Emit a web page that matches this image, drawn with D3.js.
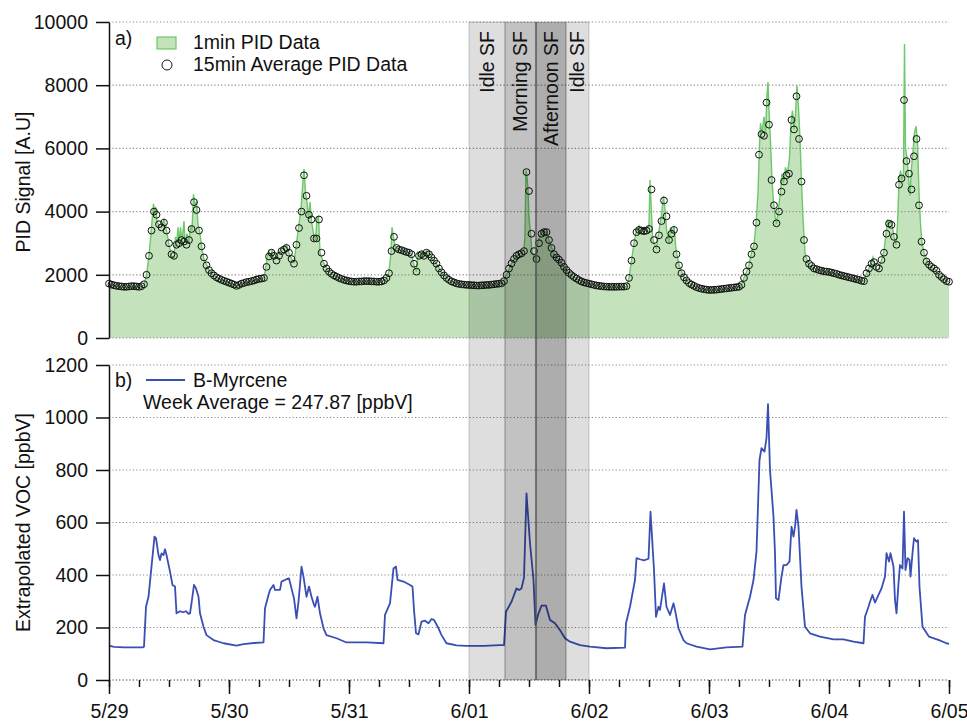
<!DOCTYPE html>
<html>
<head>
<meta charset="utf-8">
<script src="https://cdn.jsdelivr.net/npm/d3@7/dist/d3.min.js"></script>
<style>
  body { margin: 0; background: #fff; }
  svg text { font-family: "Liberation Sans", Arial, sans-serif; fill: #111; }
</style>
</head>
<body>
<svg id="chart" width="967" height="723"></svg>
<script>
// tick labels / categories
var dayLabels = ["5/29", "5/30", "5/31", "6/01", "6/02", "6/03", "6/04", "6/05"];
var pidTicks = [0, 2000, 4000, 6000, 8000, 10000];
var vocTicks = [0, 200, 400, 600, 800, 1000, 1200];
var shiftNames = ["Idle SF", "Morning SF", "Afternoon SF", "Idle SF"];
var shiftStart = [72, 79.2, 85.4, 91.4];   // hours since 5/29 00:00
var shiftEnd = [79.2, 85.4, 91.4, 96];

var pidAvg = [
  1720,1690,1670,1650,1640,1630,1620,1620,1630,1640,1640,1630,1620,1640,1700,2000,2600,3400,4000,3900,3600,3500,3650,3400,
  3000,2650,2600,2950,3000,3100,3050,2950,3100,3450,4300,4050,3400,2900,2550,2300,2150,2050,1980,1920,1880,1840,1810,1780,
  1750,1720,1690,1650,1680,1720,1740,1770,1780,1800,1820,1850,1870,1880,1900,2250,2580,2700,2600,2450,2600,2750,2800,2850,
  2700,2500,2350,2950,3480,4000,5150,4500,3900,3750,3150,3150,3750,2700,2350,2200,2100,2030,1980,1940,1900,1870,1840,1820,
  1800,1790,1780,1780,1790,1790,1800,1800,1800,1790,1790,1780,1780,1790,1820,1900,2050,2750,3200,2850,2800,2780,2750,2720,
  2700,2650,2350,2100,2600,2650,2600,2700,2650,2550,2450,2350,2200,2080,1980,1900,1840,1790,1760,1730,1710,1700,1690,1680,
  1680,1670,1670,1660,1660,1670,1670,1680,1680,1690,1700,1710,1720,1730,1800,2000,2200,2360,2500,2600,2650,2680,2750,5250,
  4650,3300,2750,2500,3000,3300,3350,3350,3100,2850,2650,2550,2480,2380,2250,2150,2060,1990,1930,1880,1830,1790,1760,1740,
  1720,1700,1680,1660,1650,1640,1630,1625,1620,1620,1620,1620,1625,1625,1625,1640,1900,2450,3000,3350,3420,3400,3380,3400,
  3450,4700,3100,2800,3250,3700,4350,3850,3100,3300,3420,2650,2300,2050,1920,1820,1740,1690,1650,1610,1580,1560,1545,1530,
  1520,1520,1525,1530,1540,1550,1560,1570,1580,1590,1600,1610,1620,1680,1900,2100,2300,2650,2900,3650,5800,6450,6400,7450,
  6750,5000,4200,3630,4000,4630,4950,5150,5200,6900,6600,7650,6300,4950,3100,2500,2350,2280,2200,2180,2150,2130,2110,2100,
  2090,2070,2050,2030,2000,1980,1960,1940,1920,1900,1880,1860,1840,1810,1800,2050,2200,2350,2400,2250,2200,2470,2700,3300,
  3620,3580,3200,2950,4850,5050,7530,5600,5200,4700,5750,6300,4200,3050,2700,2420,2320,2250,2200,2130,2000,1930,1860,1800,
  1780
];

// 1min PID data, [hour, signal]
var pidMinute = [
  [0,1700],[1,1660],[3,1610],[5,1630],[6.5,1620],[7,1680],[7.5,2000],[8,2600],[8.5,3500],[8.9,4250],[9.1,3900],[9.3,4150],
  [9.6,3700],[10,3550],[10.5,3500],[11,3750],[11.5,3400],[12,2950],[12.5,2600],[13,2550],[13.3,3200],[13.5,2900],[13.8,3500],
  [14,3000],[14.3,3500],[14.6,3050],[15,3700],[15.2,3000],[15.6,3300],[16,3050],[16.3,3550],[16.6,3400],[16.9,4550],[17.2,4200],
  [17.5,4300],[17.8,3600],[18.2,3300],[18.6,2800],[19,2500],[20,2150],[21,1980],[22,1880],[23,1810],[24,1750],
  [25,1680],[25.5,1640],[27,1740],[29,1820],[31,1900],[31.3,2200],[31.7,2600],[32,2750],[32.3,2550],[32.6,2800],[33,2500],
  [33.5,2600],[34,2700],[34.5,2850],[35,2800],[35.5,2950],[36,2700],[36.5,2500],[37,2400],[37.5,3000],[38,3600],[38.4,4100],
  [38.8,5000],[39,5350],[39.3,4600],[39.6,4300],[39.9,3800],[40.2,4300],[40.5,3700],[40.9,3300],[41.3,3100],[41.6,3800],
  [41.9,3850],[42.2,2700],[43,2350],[44,2100],[46,1900],[48,1800],
  [50,1790],[52,1800],[54,1780],[55,1820],[55.5,1900],[56,2100],[56.4,2700],[56.6,3500],[56.9,3200],[57.2,2900],[58,2800],
  [60,2700],[60.5,2650],[61,2300],[61.5,2100],[61.8,2700],[62.2,2600],[62.6,2750],[63,2600],[63.5,2750],[64,2700],[64.5,2550],
  [65.5,2350],[66.5,2080],[68,1840],[70,1710],[72,1680],
  [74,1660],[76,1680],[78,1720],[78.7,1750],[79.5,2000],[80.5,2360],[81.5,2600],[82.5,2700],[83,2800],[83.2,3300],[83.4,5300],
  [83.6,5100],[83.8,4700],[84,3800],[84.3,3300],[84.6,2700],[85,2600],[85.3,2450],[85.6,2900],[86,3150],[86.5,3350],[87,3400],
  [87.5,3350],[88,3100],[89,2650],[90,2480],[91,2250],[92,2060],[93,1930],[94,1830],[96,1720],
  [98,1650],[100,1620],[103.5,1625],[104,1900],[104.5,2450],[105,3000],[105.5,3400],[106,3550],[106.5,3400],[107,3500],
  [107.5,3400],[108,3600],[108.2,5000],[108.4,4300],[108.7,3200],[109,3000],[109.5,2850],[110,3400],[110.5,3900],[110.9,4500],
  [111.2,4050],[111.5,3450],[112,3000],[112.3,3500],[112.6,3300],[113,3550],[113.4,2800],[114,2300],[115,1920],[116,1740],
  [118,1580],[120,1520],
  [122,1540],[124,1580],[126,1620],[126.5,1700],[127,1900],[128,2300],[128.5,2700],[129,2950],[129.4,3600],[129.8,4600],
  [130.1,6100],[130.3,6800],[130.6,6500],[131,7000],[131.3,6500],[131.6,7700],[131.8,8100],[132,7200],[132.3,6200],[132.6,5000],
  [132.9,4300],[133.2,3850],[133.5,3600],[133.9,4100],[134.3,4600],[134.6,5200],[134.9,4900],[135.3,5400],[135.7,5200],
  [136.1,5700],[136.4,6800],[136.7,7200],[137,6600],[137.3,7100],[137.6,8000],[137.9,7300],[138.2,6300],[138.5,4900],
  [138.8,3800],[139.2,2700],[139.8,2350],[141,2200],[143,2110],[144,2090],
  [146,2000],[148,1920],[150,1840],[151,1800],[151.5,2050],[152,2200],[152.5,2400],[152.8,2550],[153.2,2300],[153.6,2150],
  [154,2200],[154.5,2470],[155,2750],[155.4,3300],[155.7,3750],[156,3600],[156.5,3700],[157,3200],[157.4,2950],[157.7,3600],
  [158,4900],[158.3,5300],[158.6,5000],[158.9,5200],[159.1,9300],[159.3,6000],[159.6,5700],[159.9,5100],[160.2,4500],
  [160.5,5400],[160.8,5900],[161.1,6500],[161.4,6700],[161.7,6200],[162,4600],[162.3,3600],[162.6,3000],[163,2700],[164,2320],
  [165,2200],[166,2000],[167,1860],[168,1780]
];

// B-Myrcene, [hour, ppbV]
var myrcene = [
  [0,131],[1,126],[3,124],[5,124],[6.7,124],[7,127],[7.4,279],[7.9,317],[8.5,432],[9.1,546],[9.4,540],[9.9,476],[10.2,457],
  [10.5,482],[10.9,476],[11.2,498],[11.5,476],[12.2,413],[12.7,362],[13.2,356],[13.5,254],[14.2,262],[14.8,258],[15.4,262],
  [15.9,252],[16.2,254],[16.5,292],[17,362],[17.4,349],[17.9,317],[18.2,254],[18.9,203],[19.5,171],[20.9,152],[22.9,140],
  [25.5,131],[26.9,137],[29,141],[30.9,143],[31.2,273],[31.9,324],[32.2,343],[32.9,362],[33.2,343],[34.2,343],[34.5,375],
  [35.5,384],[36,387],[36.5,349],[37,311],[37.5,235],[37.9,298],[38.5,432],[38.9,394],[39.5,317],[40,356],[40.5,317],
  [40.9,292],[41.2,279],[41.7,317],[42.2,254],[42.9,197],[43.5,171],[45.5,159],[47.5,143],[49.5,143],[51.5,143],[54.9,140],
  [55.2,248],[56.2,292],[56.9,425],[57.4,432],[57.7,381],[58.9,375],[60.2,362],[60.7,356],[61,267],[61.4,178],[61.9,174],
  [62.5,222],[63.2,226],[63.9,216],[64.5,232],[65,229],[65.9,197],[66.5,171],[67.5,140],[69.5,132],[71.5,130],[75,130],
  [78.2,133],[79,133],[79.4,260],[80.5,298],[81.5,349],[82,343],[82.5,349],[83,390],[83.5,711],[84.2,520],[84.9,381],
  [85.3,210],[85.9,254],[86.5,283],[87.4,283],[88.2,229],[89.2,216],[90.2,190],[91.2,159],[92.2,146],[94.2,133],[96.2,127],
  [99.5,121],[103.2,123],[103.4,216],[104.2,279],[105.2,381],[105.5,464],[106.2,460],[107,456],[107.9,462],[108.3,641],
  [108.6,546],[109,419],[109.4,241],[109.9,279],[110.2,267],[111,368],[111.5,279],[112.2,248],[112.9,292],[113.2,267],
  [113.9,197],[114.9,152],[115.5,140],[117.5,127],[120.2,117],[123.5,124],[126.7,127],[127.2,248],[128.2,317],[128.9,381],
  [129.5,489],[130.1,838],[130.5,883],[131.1,870],[131.5,921],[131.8,1051],[132.2,800],[132.9,622],[133.2,483],[133.4,311],
  [133.9,305],[134.5,394],[134.9,438],[135.5,438],[136.1,451],[136.5,584],[136.9,546],[137.2,584],[137.5,648],[137.9,584],
  [138.5,355],[139.2,203],[140.2,178],[142.2,165],[144.9,155],[146.9,155],[148.9,146],[150.9,140],[151.2,241],[151.9,279],
  [152.2,298],[152.7,324],[153.2,295],[153.9,324],[154.5,349],[155.2,394],[155.5,483],[156,451],[156.3,483],[156.9,432],
  [157.2,305],[157.5,254],[157.9,368],[158.2,438],[158.7,425],[159,641],[159.3,419],[159.7,464],[160.1,457],[160.3,394],
  [160.7,483],[161,540],[161.5,527],[161.8,533],[162.1,355],[162.7,203],[164,165],[166,152],[167.5,140],[168,138]
];

var svg = d3.select("#chart");
var fontSize = "19.5px";

var x = d3.scaleLinear().domain([0, 168]).range([109, 949]);
var yTop = d3.scaleLinear().domain([0, 10000]).range([338, 22]);
var yBot = d3.scaleLinear().domain([0, 1200]).range([680, 365]);

//Grid lines
function grid(scale, ticks) {
  svg.append("g").selectAll("line")
    .data(ticks)
    .enter()
    .append("line")
    .attr("x1", x(0)).attr("x2", x(168))
    .attr("y1", function(d) { return scale(d); })
    .attr("y2", function(d) { return scale(d); })
    .attr("stroke", function(d) { return d === 0 && scale === yBot ? "#333" : "#8a8a8a"; })
    .attr("stroke-width", 1.2)
    .attr("stroke-dasharray", "1.2,2.2");
}

//Top panel: 1min area + line
var area = d3.area()
  .x(function(d) { return x(d[0]); })
  .y0(yTop(0))
  .y1(function(d) { return yTop(d[1]); });
svg.append("path")
  .datum(pidMinute)
  .attr("d", area)
  .attr("fill", "#c4e3bc");
grid(yTop, pidTicks);
svg.append("path")
  .datum(pidMinute)
  .attr("d", d3.line().x(function(d) { return x(d[0]); }).y(function(d) { return yTop(d[1]); }))
  .attr("fill", "none")
  .attr("stroke", "#6cc86a")
  .attr("stroke-width", 1.4);

//15min average circles
svg.append("g").selectAll("circle")
  .data(pidAvg)
  .enter()
  .append("circle")
  .attr("cx", function(d, i) { return x(i * 0.5); })
  .attr("cy", function(d) { return yTop(d); })
  .attr("r", 3.4)
  .attr("fill", "none")
  .attr("stroke", "#111")
  .attr("stroke-width", 1);

//Bottom panel
grid(yBot, vocTicks);
svg.append("path")
  .datum(myrcene)
  .attr("d", d3.line().x(function(d) { return x(d[0]); }).y(function(d) { return yBot(d[1]); }))
  .attr("fill", "none")
  .attr("stroke", "#3a4fb3")
  .attr("stroke-width", 1.8)
  .attr("stroke-linejoin", "round");

//Shift shading across both panels
var shadeAlpha = [0.13, 0.24, 0.32, 0.13];
svg.append("g").selectAll("rect")
  .data(shiftNames)
  .enter()
  .append("rect")
  .attr("x", function(d, i) { return x(shiftStart[i]); })
  .attr("width", function(d, i) { return x(shiftEnd[i]) - x(shiftStart[i]); })
  .attr("y", yTop(10000))
  .attr("height", yBot(0) - yTop(10000))
  .attr("fill", "#000")
  .attr("fill-opacity", function(d, i) { return shadeAlpha[i]; })
  .attr("stroke", "#000")
  .attr("stroke-opacity", 0.18)
  .attr("stroke-width", 1);
svg.append("line")
  .attr("x1", x(shiftStart[2])).attr("x2", x(shiftStart[2]))
  .attr("y1", yTop(10000)).attr("y2", yBot(0))
  .attr("stroke", "#555").attr("stroke-width", 1.2);
svg.append("g").selectAll("text")
  .data(shiftNames)
  .enter()
  .append("text")
  .attr("transform", function(d, i) {
    return "translate(" + x((shiftStart[i] + shiftEnd[i]) / 2) + ",31) rotate(-90)";
  })
  .attr("dy", "0.35em")
  .attr("text-anchor", "end")
  .style("font-size", fontSize)
  .text(function(d) { return d; });

//Y axes
function yAxis(scale, ticks) {
  var g = svg.append("g")
    .attr("transform", "translate(" + x(0) + ",0)")
    .call(d3.axisLeft(scale).tickValues(ticks).tickFormat(d3.format("d"))
      .tickSize(13).tickSizeOuter(0).tickPadding(8));
  g.selectAll("path, line").attr("stroke", "#111").attr("stroke-width", 1.5);
  g.selectAll("text").style("font-size", fontSize).attr("font-family", null);
}
yAxis(yTop, pidTicks);
yAxis(yBot, vocTicks);

//X axis (days major, 6 hour minor)
var gx = svg.append("g")
  .attr("transform", "translate(0," + yBot(0) + ")")
  .call(d3.axisBottom(x).tickValues(d3.range(0, 169, 6)).tickSize(7).tickFormat(""));
gx.select(".domain").remove();
gx.selectAll("line").attr("stroke", "#111").attr("stroke-width", 1.5);
var gxMajor = svg.append("g")
  .attr("transform", "translate(0," + yBot(0) + ")")
  .call(d3.axisBottom(x).tickValues(d3.range(0, 169, 24)).tickSize(14).tickPadding(10)
    .tickFormat(function(d) { return dayLabels[d / 24]; }));
gxMajor.select(".domain").remove();
gxMajor.selectAll("line").attr("stroke", "#111").attr("stroke-width", 1.5);
gxMajor.selectAll("text").style("font-size", fontSize).attr("font-family", null);

//Axis titles
svg.append("text")
  .attr("transform", "translate(23," + ((yTop(0) + yTop(10000)) / 2 + 2) + ") rotate(-90)")
  .attr("dy", "0.35em")
  .attr("text-anchor", "middle")
  .style("font-size", fontSize)
  .text("PID Signal [A.U]");
svg.append("text")
  .attr("transform", "translate(23," + ((yBot(0) + yBot(1200)) / 2) + ") rotate(-90)")
  .attr("dy", "0.35em")
  .attr("text-anchor", "middle")
  .style("font-size", fontSize)
  .text("Extrapolated VOC [ppbV]");

//Legend a)
svg.append("text").attr("x", 115).attr("y", 45).style("font-size", fontSize).text("a)");
svg.append("rect").attr("x", 157).attr("y", 37).attr("width", 19).attr("height", 12)
  .attr("fill", "#c4e3bc").attr("stroke", "#6cc86a").attr("stroke-width", 1.2);
svg.append("text").attr("x", 193).attr("y", 49).style("font-size", fontSize).text("1min PID Data");
svg.append("circle").attr("cx", 167).attr("cy", 65).attr("r", 5)
  .attr("fill", "none").attr("stroke", "#1a1a1a").attr("stroke-width", 1);
svg.append("text").attr("x", 193).attr("y", 71).style("font-size", fontSize).text("15min Average PID Data");

//Legend b)
svg.append("text").attr("x", 115).attr("y", 387).style("font-size", fontSize).text("b)");
svg.append("line").attr("x1", 146).attr("x2", 185).attr("y1", 380).attr("y2", 380)
  .attr("stroke", "#3a4fb3").attr("stroke-width", 1.8);
svg.append("text").attr("x", 193).attr("y", 387).style("font-size", fontSize).text("B-Myrcene");
svg.append("text").attr("x", 143).attr("y", 409).style("font-size", fontSize).text("Week Average = 247.87 [ppbV]");
</script>
</body>
</html>
